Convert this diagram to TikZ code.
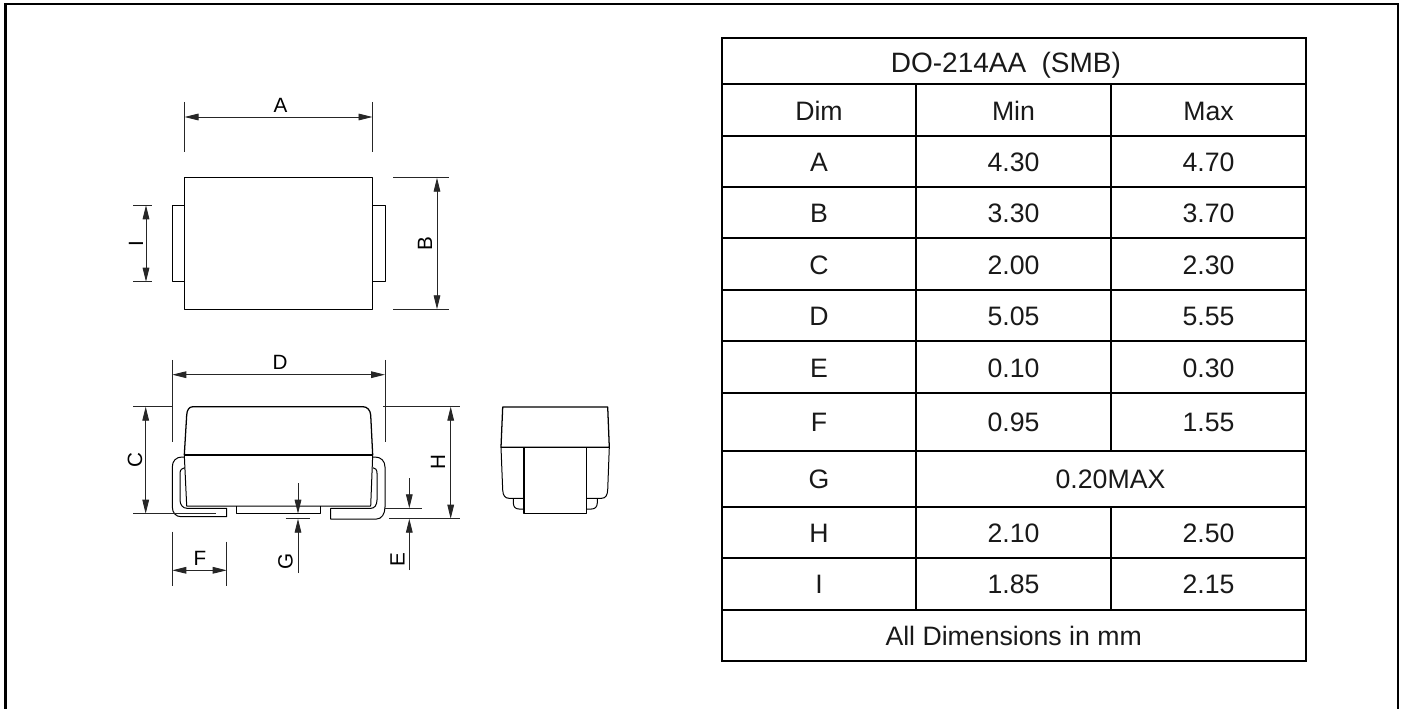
\documentclass[tikz,border=0pt]{standalone}
\usepackage{fontspec}
\setmainfont{Liberation Sans}
\usetikzlibrary{arrows.meta}
\tikzset{
  x=0.75pt,y=-0.75pt,
  part/.style={line width=0.95pt,black,line join=round},
  thin part/.style={line width=0.75pt,black,line join=round},
  ext/.style={line width=0.65pt,black!85},
  dimline/.style={line width=0.65pt,black!85,{Triangle[length=10.5pt,width=5pt]}-{Triangle[length=10.5pt,width=5pt]}},
  dimin/.style={line width=0.65pt,black!85,-{Triangle[length=10.5pt,width=5pt]}},
  lab/.style={font=\fontsize{15.5}{15.5}\selectfont,inner sep=0pt},
  vlab/.style={lab,rotate=90},
  cell/.style={font=\fontsize{20}{20}\selectfont,inner sep=0pt,text=black!90,anchor=base,yshift=-7.6pt},
  grid/.style={line width=1.5pt,black},
  frameline/.style={line width=1.9pt,black}
}
\begin{document}
\begin{tikzpicture}
\useasboundingbox (0,0) rectangle (1404,709);
\draw[frameline] (5.5,709) -- (5.5,4) -- (1398,4) -- (1398,709);

% Table
\draw[grid] (721.7,37.7) rectangle (1305.7,660.7);
\foreach \y in {84.3,135.7,187,238.5,290,341.5,393,450.7,506.7,557.7,610}
  \draw[grid] (721.7,\y) -- (1305.7,\y);
\draw[grid] (916,84.3) -- (916,610);
\draw[grid] (1111,84.3) -- (1111,450.7);
\draw[grid] (1111,506.7) -- (1111,610);
\node[cell,font=\fontsize{21}{21}\selectfont] (title) at (1005.9,62) {DO-214AA\hspace{11.5pt}(SMB)};
\node[cell] (hd) at (819,110) {Dim};
\node[cell] (hmin) at (1013.5,110) {Min};
\node[cell] (hmax) at (1208.5,110) {Max};
\foreach \n/\y/\a/\b/\c in {
  1/161.3/A/4.30/4.70,
  2/212.7/B/3.30/3.70,
  3/264.2/C/2.00/2.30,
  4/315.7/D/5.05/5.55,
  5/367.2/E/0.10/0.30,
  6/421.8/F/0.95/1.55,
  8/532.2/H/2.10/2.50,
  9/583.8/I/1.85/2.15}{
  \node[cell] (d\n) at (819,\y) {\a};
  \node[cell] (mn\n) at (1013.5,\y) {\b};
  \node[cell] (mx\n) at (1208.5,\y) {\c};
}
\node[cell] (g) at (819,478.7) {G};
\node[cell] (gv) at (1110.5,478.7) {0.20MAX};
\node[cell] (foot) at (1013.7,635) {All Dimensions in mm};

% Top view
\draw[part] (184.5,177.7) rectangle (372.5,309.3);
\draw[thin part] (184.5,205.3) -- (172.3,205.3) -- (172.3,281.7) -- (184.5,281.7);
\draw[thin part] (372.5,205.3) -- (385,205.3) -- (385,281.7) -- (372.5,281.7);
\draw[ext] (184.5,102) -- (184.5,152);
\draw[ext] (372.5,102) -- (372.5,152);
\draw[dimline] (184.5,117) -- (372.5,117);
\node[lab] (la) at (280.5,105.5) {A};
\draw[ext] (393,177.7) -- (449,177.7);
\draw[ext] (393,309.3) -- (449,309.3);
\draw[dimline] (437,177.7) -- (437,309.3);
\node[vlab] (lb) at (425,243.5) {B};
\draw[ext] (133,205.3) -- (152,205.3);
\draw[ext] (133,281.7) -- (152,281.7);
\draw[dimline] (146,205.3) -- (146,281.7);
\node[vlab] (li) at (136,243.5) {I};

% Side view body
\draw[part] (184.3,455) -- (186.7,415) .. controls (187,410) and (189,406.7) .. (193,406.7)
  -- (363,406.7) .. controls (367,406.7) and (370.4,410) .. (370.7,415) -- (372.7,455);
\draw[part] (184.3,455) -- (372.7,455);
\draw[thin part] (184.3,455) -- (186.7,506) -- (370.7,506) -- (372.7,455);
\draw[thin part] (236.7,506) -- (236.7,513.7) -- (320.7,513.7) -- (320.7,506);
% Leads
\draw[thin part] (184.3,457) -- (182,457) .. controls (176,457) and (172.3,461) .. (172.3,467)
  -- (172.3,506.7) .. controls (172.3,513) and (176,516.7) .. (181,516.7)
  -- (226.7,516.7) -- (226.7,508.3) -- (187,508.3)
  .. controls (183,508.3) and (180,505) .. (180,500) -- (180,473.3)
  .. controls (180,470) and (182,467.7) .. (184.8,467.7);
\draw[thin part] (372.7,457) -- (375,457) .. controls (381,457) and (385,461) .. (385,467)
  -- (385,507) .. controls (385,514) and (381.5,519) .. (376.7,519)
  -- (330.7,519) -- (330.7,508.3) -- (371,508.3)
  .. controls (374.5,508.3) and (377,505) .. (377,500) -- (377,473.3)
  .. controls (377,470) and (375.5,467.7) .. (373,467.7);
% Side view dimensions
\draw[ext] (172.3,360) -- (172.3,442);
\draw[ext] (385,360) -- (385,442);
\draw[dimline] (172.3,374.7) -- (385,374.7);
\node[lab] (ld) at (280,362.5) {D};
\draw[ext] (133,406.7) -- (172,406.7);
\draw[ext] (133,513.7) -- (216,513.7);
\draw[dimline] (145.7,406.7) -- (145.7,513.7);
\node[vlab] (lc) at (135,460) {C};
\draw[ext] (383,406.7) -- (460,406.7);
\draw[ext] (389,518.7) -- (460,518.7);
\draw[dimline] (450.7,406.7) -- (450.7,518.7);
\node[vlab] (lh) at (438,462.5) {H};
\draw[ext] (385,508.3) -- (421.7,508.3);
\draw[dimin] (409.3,478.3) -- (409.3,508.3);
\draw[dimin] (409.3,570) -- (409.3,518.7);
\node[vlab] (le) at (397.5,560) {E};
\draw[ext] (285.7,518.7) -- (310,518.7);
\draw[dimin] (298,483.3) -- (298,513.7);
\draw[dimin] (298,573) -- (298,518.7);
\node[vlab] (lg) at (285.5,561.5) {G};
\draw[ext] (172.3,531.7) -- (172.3,585.7);
\draw[ext] (226.7,541.7) -- (226.7,585.7);
\draw[dimline] (172.3,570.3) -- (226.7,570.3);
\node[lab] (lf) at (200,558.5) {F};

% End view
\draw[part] (501,447.3) -- (502.7,407) -- (607.7,407) -- (609.3,447.3) -- cycle;
\draw[thin part] (501,447.3) -- (502.7,490) .. controls (503,495.5) and (505,498.3) .. (509,498.3) -- (524,498.3);
\draw[thin part] (609.3,447.3) -- (607.7,490) .. controls (607.4,495.5) and (605.5,498.3) .. (601.5,498.3) -- (586.7,498.3);
\draw[part] (524,447.3) -- (524,513.3) -- (586.7,513.3) -- (586.7,447.3);
\draw[thin part] (513.3,498.3) -- (513.3,503) .. controls (513.5,507) and (515.5,509) .. (519,509) -- (524,509);
\draw[thin part] (597.3,498.3) -- (597.3,503) .. controls (597.1,507) and (595,509) .. (591.5,509) -- (586.7,509);
\end{tikzpicture}
\end{document}
